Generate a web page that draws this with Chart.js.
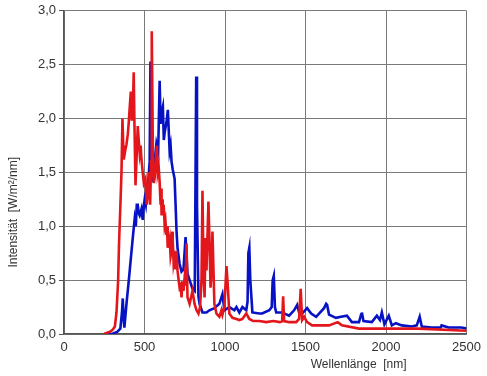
<!DOCTYPE html>
<html>
<head>
<meta charset="utf-8">
<script src="https://cdn.jsdelivr.net/npm/chart.js@4"></script>
<style>
html,body{margin:0;padding:0;background:#fff;}
#wrap{width:487px;height:376px;position:relative;}
</style>
</head>
<body>
<div id="wrap"><canvas id="c" width="487" height="376"></canvas></div>
<script>
const xTitle = "Wellenlänge  [nm]";
const yTitle = "Intensität  [W/m²/nm]";

const redNm = [250,264,285,303,316,326,336,342,351,357,363,368,371,380,388,396,402,408,415,421,427,433,437,444,450,458,464,470,476,481,489,496,506,514,520,528,535,541,545,549,553,558,563,570,577,582,588,594,600,603,606,610,613,619,625,630,636,640,644,650,656,662,668,672,675,681,687,693,699,705,712,718,724,730,736,742,749,755,761,767,780,792,798,811,823,835,845,854,860,866,873,879,885,897,903,910,916,922,934,947,965,978,984,996,1009,1015,1027,1046,1071,1089,1108,1132,1151,1175,1213,1256,1300,1340,1355,1361,1367,1400,1442,1460,1470,1479,1491,1510,1541,1646,1700,1726,1832,1975,2200,2500];
const redVal = [0,0.01,0.02,0.04,0.07,0.2,0.49,0.85,1.23,1.5,2.0,1.75,1.62,1.7,1.76,1.85,1.96,2.1,2.25,1.98,2.05,2.43,2.0,1.38,1.6,1.93,1.8,1.68,1.75,1.62,1.5,1.4,1.44,1.2,1.3,1.5,1.2,1.6,2.81,2.2,1.5,1.4,1.45,1.6,1.75,1.5,1.55,1.41,1.2,1.35,1.1,1.25,1.13,1.2,1.01,1.05,0.92,1.0,0.8,0.85,0.89,0.72,0.77,0.95,0.88,0.65,0.7,0.6,0.77,0.59,0.5,0.43,0.45,0.34,0.49,0.4,0.52,0.45,0.84,0.34,0.28,0.36,0.4,0.28,0.22,0.19,0.25,0.5,1.33,0.6,0.34,0.89,0.59,1.23,0.9,0.43,0.6,0.95,0.28,0.19,0.16,0.22,0.18,0.25,0.63,0.5,0.19,0.15,0.14,0.13,0.14,0.19,0.14,0.12,0.12,0.11,0.12,0.11,0.12,0.35,0.12,0.11,0.11,0.14,0.42,0.13,0.16,0.11,0.08,0.08,0.11,0.08,0.05,0.05,0.05,0.03];

const blueNm = [250,297,330,350,360,365,370,375,388,402,415,427,439,446,452,458,464,470,481,489,495,501,508,514,525,532,537,543,551,557,563,574,585,594,600,605,614,620,625,636,645,656,662,668,675,687,693,699,705,718,730,742,755,767,780,798,812,817,821,826,835,842,860,885,903,934,965,984,996,1027,1058,1071,1089,1108,1132,1140,1145,1151,1157,1170,1213,1231,1275,1290,1296,1303,1310,1318,1355,1398,1429,1448,1460,1479,1510,1535,1566,1584,1615,1628,1634,1646,1689,1720,1757,1788,1832,1845,1850,1860,1912,1943,1962,1974,1990,2017,2036,2061,2098,2160,2191,2209,2222,2283,2339,2345,2389,2469,2500];
const blueVal = [0,0,0.02,0.05,0.2,0.33,0.15,0.06,0.28,0.49,0.7,0.89,1.07,1.0,1.2,1.2,1.12,1.1,1.16,1.06,1.18,1.25,1.2,1.32,1.45,1.6,2.53,1.8,1.41,1.5,1.6,1.77,1.7,2.35,1.95,2.05,2.11,1.8,1.87,1.96,2.08,1.7,1.75,1.6,1.53,1.44,1.2,0.95,0.8,0.65,0.58,0.6,0.9,0.56,0.5,0.42,0.4,1.5,2.39,1.2,0.35,0.28,0.2,0.2,0.22,0.24,0.28,0.37,0.22,0.25,0.22,0.25,0.2,0.25,0.22,0.3,0.75,0.8,0.5,0.2,0.19,0.19,0.22,0.25,0.5,0.54,0.25,0.2,0.2,0.17,0.22,0.27,0.2,0.19,0.24,0.19,0.16,0.19,0.24,0.28,0.27,0.18,0.15,0.16,0.17,0.11,0.11,0.18,0.2,0.12,0.11,0.17,0.13,0.2,0.09,0.17,0.08,0.1,0.08,0.07,0.08,0.16,0.07,0.06,0.06,0.08,0.06,0.06,0.05];

const xMin = 0, xMax = 2500, xStep = 500;
const yMin = 0, yMax = 3, yStep = 0.5;

const toPts = (xs, ys) => xs.map((x, i) => ({x: x, y: ys[i]}));
const FONT = "'Liberation Sans', Arial, sans-serif";

const titlePlugin = {
  id: 'axisTitles',
  afterDraw(chart) {
    const ctx = chart.ctx;
    const a = chart.chartArea;
    ctx.save();
    ctx.fillStyle = '#333';
    ctx.font = "12px " + FONT;
    ctx.textAlign = 'center';
    ctx.textBaseline = 'middle';
    ctx.fillText(xTitle, chart.scales.x.getPixelForValue(1830), a.bottom + 31);
    ctx.translate(14, chart.scales.y.getPixelForValue(1.13));
    ctx.rotate(-Math.PI / 2);
    ctx.fillText(yTitle, 0, 0);
    ctx.restore();
  }
};

new Chart(document.getElementById('c'), {
  type: 'line',
  data: {
    datasets: [
      {label: 'rot', data: toPts(redNm, redVal), borderColor: '#e3161b', borderWidth: 2.6, pointRadius: 0, tension: 0, order: 0},
      {label: 'blau', data: toPts(blueNm, blueVal), borderColor: '#0612c4', borderWidth: 2.6, pointRadius: 0, tension: 0, order: 1}
    ]
  },
  options: {
    responsive: false,
    animation: false,
    layout: {padding: {left: 0, top: 6, right: 19, bottom: 0}},
    plugins: {legend: {display: false}, tooltip: {enabled: false}},
    scales: {
      x: {
        type: 'linear', min: xMin, max: xMax,
        afterFit: s => { s.height = 42; },
        ticks: {stepSize: xStep, color: '#333', font: {family: FONT, size: 13}, padding: 6, maxRotation: 0,
          callback: v => String(v)},
        grid: {color: '#7a7a7a', lineWidth: 1, drawTicks: false},
        border: {color: '#555', width: 1.5}
      },
      y: {
        min: yMin, max: yMax,
        afterFit: s => { s.width = 64; },
        ticks: {stepSize: yStep, color: '#333', font: {family: FONT, size: 13}, padding: 3,
          callback: v => v.toFixed(1).replace('.', ',')},
        grid: {color: '#7a7a7a', lineWidth: 1, tickLength: 5, tickColor: '#555'},
        border: {color: '#555', width: 1.5}
      }
    }
  },
  plugins: [titlePlugin]
});
</script>
</body>
</html>
